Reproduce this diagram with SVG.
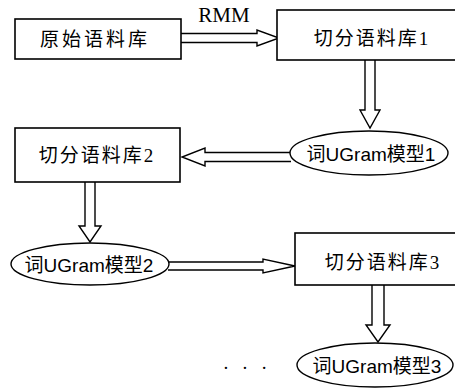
<svg xmlns="http://www.w3.org/2000/svg" width="455" height="389" viewBox="0 0 455 389">
<style>
.box{fill:#fff;stroke:#000;stroke-width:1.6}
.ell{fill:#fff;stroke:#000;stroke-width:1.4}
.arr{fill:#fff;stroke:#000;stroke-width:1.4;stroke-linejoin:miter}
.t{font-family:"Liberation Serif","Noto Sans CJK SC",serif;font-size:19px;fill:#000;text-anchor:middle;dominant-baseline:central}
.e{font-family:"Liberation Sans","Noto Sans CJK SC",sans-serif;font-size:19px;fill:#000;text-anchor:middle;dominant-baseline:central}
</style>
<rect width="455" height="389" fill="#fff"/>
<g id="connectors">
<path class="arr" d="M181,33.5 H257 V30 L279,38 L257,46 V42.5 H181"/>
<path class="arr" d="M365,60 V110 H360 L370,128 L380,110 H375 V60"/>
<path class="arr" d="M291,152.5 H205 V148 L182,157 L205,166 V161.5 H291"/>
<path class="arr" d="M85,182 V226 H79 L90,242 L101,226 H95 V182"/>
<path class="arr" d="M168,262 H263 V259 L295,266 L263,273 V270 H168"/>
<path class="arr" d="M372,285 V325 H366 L378,342 L390,325 H384 V285"/>
</g>
<g id="rmm"><text class="t" x="224" y="15" style="font-size:21px">RMM</text></g>
<g id="n1"><rect class="box" x="15" y="19" width="166" height="40"/><text class="t" x="95" y="39" letter-spacing="3">原始语料库</text></g>
<g id="n2"><rect class="box" x="277" y="10" width="190" height="50"/><text class="t" x="372" y="38" letter-spacing="2">切分语料库1</text></g>
<g id="n3"><ellipse class="ell" cx="369" cy="153" rx="79" ry="22"/><text class="e" x="371" y="154">词UGram模型1</text></g>
<g id="n4"><rect class="box" x="15" y="128" width="165" height="54"/><text class="t" x="97" y="155" letter-spacing="2">切分语料库2</text></g>
<g id="n5"><ellipse class="ell" cx="90" cy="264" rx="79" ry="21"/><text class="e" x="89" y="265">词UGram模型2</text></g>
<g id="n6"><rect class="box" x="295" y="233" width="172" height="52"/><text class="t" x="383" y="262" letter-spacing="2">切分语料库3</text></g>
<g id="n7"><ellipse class="ell" cx="375" cy="365" rx="78" ry="22"/><text class="e" x="377" y="366">词UGram模型3</text></g>
<g id="dots"><text class="t" x="247" y="367" letter-spacing="4">· · ·</text></g>
</svg>
